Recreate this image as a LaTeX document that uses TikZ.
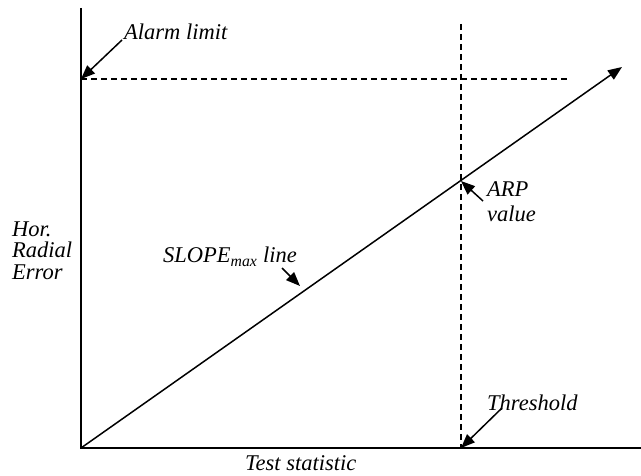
\documentclass[tikz,border=0pt]{standalone}
\usepackage{fontspec}
\setmainfont{Liberation Serif}
\usetikzlibrary{arrows.meta}
\begin{document}
\begin{tikzpicture}[x=1pt,y=-1pt,
  lbl/.style={font=\fontsize{22.5}{25}\selectfont\itshape, inner sep=0pt, anchor=base west},
  axisline/.style={line width=1.6pt},
  guide/.style={line width=1.3pt, dash pattern=on 6pt off 4pt},
  ptr/.style={line width=1.5pt, -{Triangle[length=14pt,width=11pt]}}]
\useasboundingbox (0,0) rectangle (641,476);
\coordinate (O) at (81,448);
\coordinate (ytop) at (81,8);
\coordinate (xend) at (641,448);
\coordinate (diagend) at (622,67);
\coordinate (hdl) at (81,79);
\coordinate (hdr) at (567,79);
\coordinate (vdt) at (461,24);
\coordinate (vdb) at (461,448);
\coordinate (arp) at (461,181);
\coordinate (slp) at (300,286);
\draw[axisline] (ytop) -- (O) -- (xend);
\draw[guide] (hdl) -- (hdr);
\draw[guide] (vdt) -- (vdb);
\draw[ptr] (O) -- (diagend);
\node[lbl] (alarm) at (124,40) {Alarm limit};
\node[lbl] (arpt) at (487,197) {ARP};
\node[lbl] (val) at (487,222) {value};
\node[lbl] (slope) at (163,263) {SLOPE\textsubscript{max} line};
\node[lbl] (thr) at (487,410) {Threshold};
\node[lbl] (ts) at (245,470) {Test statistic};
\node[lbl] (hor) at (12,237) {Hor.};
\node[lbl] (rad) at (12,258) {Radial};
\node[lbl] (err) at (12,280) {Error};
\coordinate (a1) at (122,40);
\coordinate (a2) at (483,201);
\coordinate (a3) at (282,268);
\coordinate (a4) at (502,408);
\draw[ptr] (a1) -- (hdl);
\draw[ptr] (a2) -- (arp);
\draw[ptr] (a3) -- (slp);
\draw[ptr] (a4) -- (vdb);
\end{tikzpicture}
\end{document}
